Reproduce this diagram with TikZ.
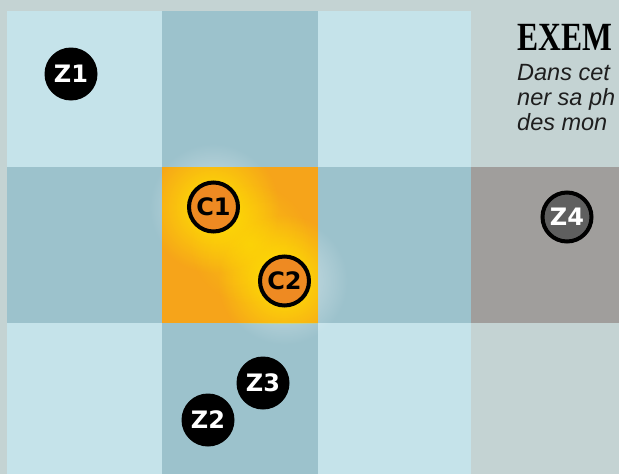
\documentclass[tikz,border=0pt]{standalone}
\usepackage{fontspec}
\setmainfont{Liberation Sans}
\newfontfamily\badgefont{DejaVu Sans}
\newfontfamily\titlefont{Liberation Serif}
\usetikzlibrary{fadings}
\definecolor{bgc}{HTML}{C4D3D3}
\definecolor{lightc}{HTML}{C5E3EA}
\definecolor{darkc}{HTML}{9CC2CC}
\definecolor{grayc}{HTML}{A09E9C}
\definecolor{orangec}{HTML}{F6A41A}
\definecolor{glowc}{HTML}{FFE600}
\definecolor{badgeorange}{HTML}{EE8A22}
\definecolor{badgegray}{HTML}{5F5F5F}
\definecolor{textc}{HTML}{1E1E1E}
\tikzfading[name=glowfade, inner color=transparent!0, outer color=transparent!100]
\tikzset{
  zbadge/.style={circle, fill=black, text=white, minimum size=53pt, inner sep=0pt,
    font=\badgefont\bfseries\fontsize{24}{24}\selectfont},
  cbadge/.style={circle, draw=black, line width=4pt, fill=badgeorange, text=black,
    minimum size=49pt, inner sep=0pt, font=\badgefont\bfseries\fontsize{24}{24}\selectfont},
  gbadge/.style={cbadge, fill=badgegray, text=white},
  desc/.style={anchor=base west, inner sep=0pt, text=textc,
    font=\itshape\fontsize{23.5}{25}\selectfont},
}
\begin{document}
\begin{tikzpicture}[x=1pt, y=-1pt]
\useasboundingbox (0,0) rectangle (619,474);
\clip (0,0) rectangle (619,474);
\fill[bgc] (0,0) rectangle (619,474);
% row 0
\fill[lightc] (7,11) rectangle (162,167);
\fill[darkc] (162,11) rectangle (318,167);
\fill[lightc] (318,11) rectangle (471,167);
% row 1
\fill[darkc] (7,167) rectangle (162,323);
\fill[darkc] (318,167) rectangle (471,323);
\fill[grayc] (471,167) rectangle (619,323);
% row 2
\fill[lightc] (7,323) rectangle (162,474);
\fill[darkc] (162,323) rectangle (318,474);
\fill[lightc] (318,323) rectangle (471,474);
% halo outside the lit cell
\fill[white, opacity=0.55, path fading=glowfade] (213,207) circle (64);
\fill[white, opacity=0.55, path fading=glowfade] (284,281) circle (64);
% lit cell
\fill[orangec] (162,167) rectangle (318,323);
\begin{scope}
  \clip (162,167) rectangle (318,323);
  \fill[glowc, path fading=glowfade] (213,207) circle (66);
  \fill[glowc, path fading=glowfade] (284,281) circle (66);
  \fill[glowc, opacity=0.5, path fading=glowfade] (250,244) circle (60);
\end{scope}
% badges
\node[zbadge] (z1) at (71,74) {Z1};
\node[cbadge] (c1) at (213.5,207) {C1};
\node[cbadge] (c2) at (284.5,281) {C2};
\node[zbadge] (z3) at (263,383) {Z3};
\node[zbadge] (z2) at (208,420) {Z2};
\node[gbadge] (z4) at (567,217) {Z4};
% text
\node[anchor=base west, inner sep=0pt, text=black,
  font=\titlefont\bfseries\fontsize{40}{40}\selectfont] (title) at (517,50)
  {\scalebox{0.79}[1]{EXEM}};
\node[desc] (l1) at (517,80) {Dans cet};
\node[desc] (l2) at (517,105) {ner sa ph};
\node[desc] (l3) at (517,130) {des mon};
\end{tikzpicture}
\end{document}
